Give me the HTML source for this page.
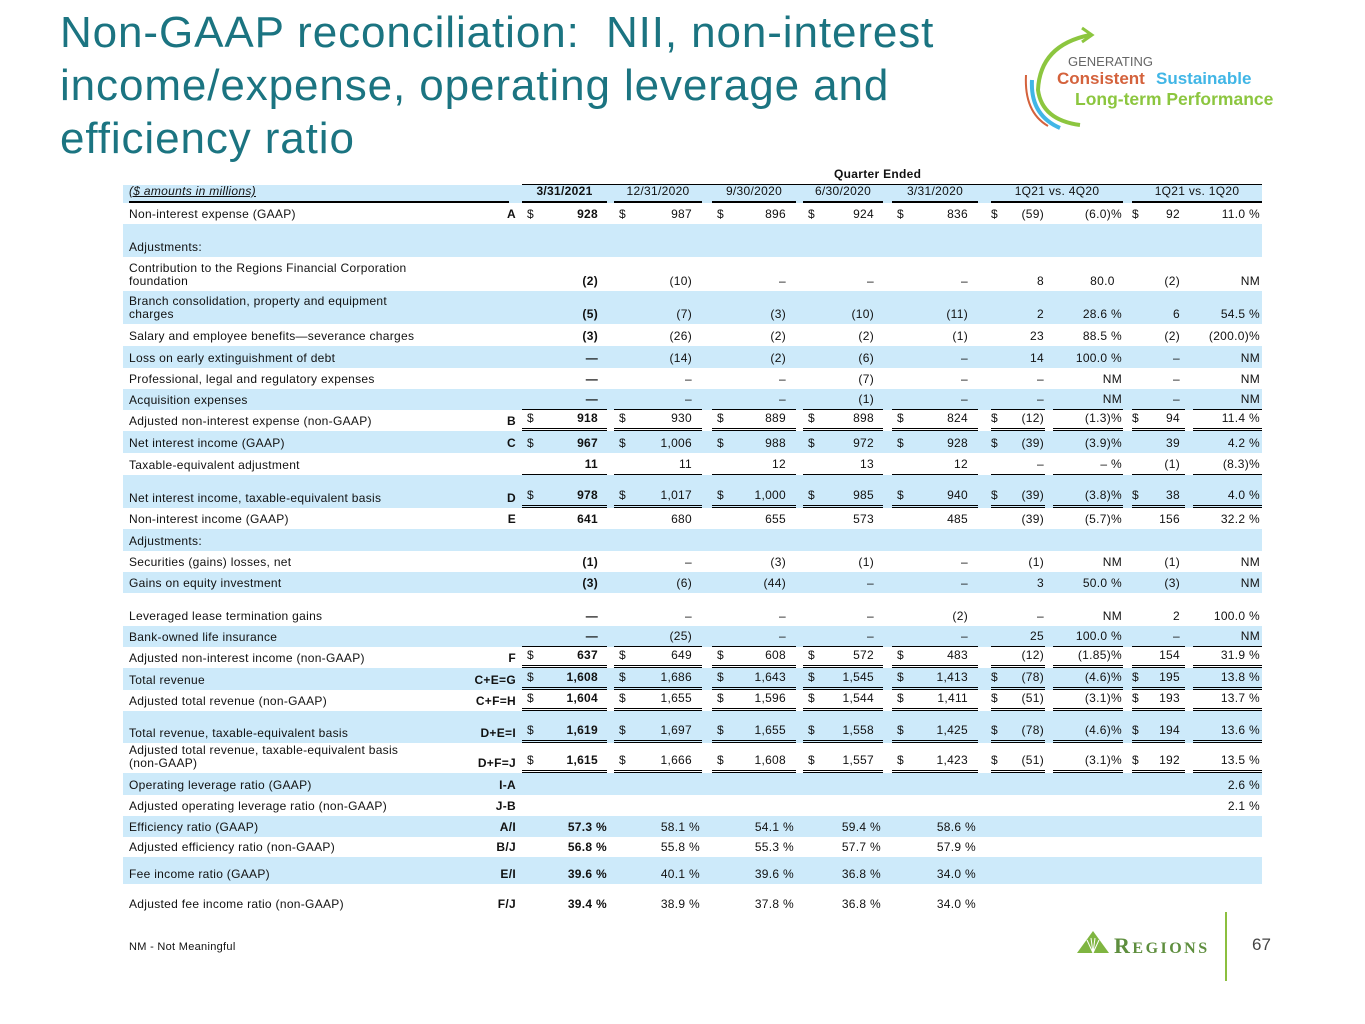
<!DOCTYPE html>
<html><head><meta charset="utf-8">
<style>
*{margin:0;padding:0;box-sizing:border-box}
body{width:1365px;height:1024px;background:#fff;position:relative;overflow:hidden;font-family:"Liberation Sans",sans-serif;color:#111}
.title{position:absolute;left:60px;top:6px;font-size:44px;line-height:53px;color:#1b7481;width:960px;letter-spacing:0.9px}
.r{position:absolute;left:123px;width:1139px;font-size:12px;line-height:13px;letter-spacing:0.3px}
.sh{background:#cdeafa}
.r>span{position:absolute;top:0;bottom:0;display:flex;align-items:flex-end;justify-content:flex-end;padding-bottom:3px;white-space:nowrap}
.r>span.l{left:6px;width:380px;justify-content:flex-start}
.r>span.k{left:317px;width:76px;font-weight:bold}
.a{left:399px;width:85px;padding-right:9px}
.b{left:491px;width:88px;padding-right:10px}
.c{left:589px;width:84px;padding-right:10px}
.d{left:680px;width:80px;padding-right:9px}
.e{left:769px;width:86px;padding-right:10px}
.f{left:868px;width:54px;padding-right:1px}
.g{left:930px;width:70px;padding-right:1px}
.h{left:1009px;width:53px;padding-right:5px}
.i{left:1070px;width:69px;padding-right:2px}
.a{font-weight:bold}
.r i{font-style:normal;position:absolute;left:5px;bottom:3px;font-weight:normal}
.f i,.h i{left:0}
.t{border-top:1px solid #000}
.s{border-bottom:1px solid #000}
.dd{border-bottom:3px double #000}
.hd>span{border-bottom:2px solid #000;justify-content:center;padding-right:0}
.hd>span.a{font-weight:bold}
.ht{position:absolute;left:522px;top:184px;width:740px;border-top:2px solid #000}
.qe{position:absolute;left:834px;top:167px;font-size:12px;font-weight:bold;letter-spacing:0.3px}
.foot{position:absolute;left:129px;top:941px;font-size:11px;letter-spacing:0.3px}
</style></head><body>
<div class="title">Non-GAAP reconciliation:&nbsp; NII, non-interest income/expense, operating leverage and efficiency ratio</div>

<svg style="position:absolute;left:1020px;top:20px" width="300" height="110">
<path d="M70 15 Q20 25 18 70 Q22 100 60 105" fill="none" stroke="#8cc63f" stroke-width="4"/>
<path d="M62 8 L72 15 L62 22" fill="none" stroke="#8cc63f" stroke-width="3"/>
<path d="M12 60 Q10 95 40 108" fill="none" stroke="#41b6e6" stroke-width="4"/>
<path d="M6 55 Q4 92 28 106" fill="none" stroke="#d4623c" stroke-width="2"/>
<text x="48" y="46" font-family="Liberation Sans" font-size="13" fill="#666">GENERATING</text>
<text x="37" y="64" font-family="Liberation Sans" font-size="17" font-weight="bold" fill="#d4623c">Consistent</text>
<text x="136" y="64" font-family="Liberation Sans" font-size="17" font-weight="bold" fill="#41b6e6">Sustainable</text>
<text x="55" y="85" font-family="Liberation Sans" font-size="17.5" font-weight="bold" fill="#8cc63f">Long-term Performance</text>
</svg>

<div class="qe">Quarter Ended</div>
<div class="ht"></div>

<div class="r sh hd" style="top:185px;height:18px"><span class="l" style="font-style:italic;text-decoration:underline">($ amounts in millions)</span><span class="a">3/31/2021</span><span class="b">12/31/2020</span><span class="c">9/30/2020</span><span class="d">6/30/2020</span><span class="e">3/31/2020</span><span style="left:868px;width:132px;border-bottom:2px solid #000;justify-content:center;padding-right:0">1Q21 vs. 4Q20</span><span style="left:1009px;width:130px;border-bottom:2px solid #000;justify-content:center;padding-right:0">1Q21 vs. 1Q20</span></div>

<div class="r" style="top:203px;height:21px"><span class="l">Non-interest expense (GAAP)</span><span class="k">A</span><span class="a"><i>$</i>928</span><span class="b"><i>$</i>987</span><span class="c"><i>$</i>896</span><span class="d"><i>$</i>924</span><span class="e"><i>$</i>836</span><span class="f"><i>$</i>(59)</span><span class="g">(6.0)%</span><span class="h"><i>$</i>92</span><span class="i">11.0 %</span></div>

<div class="r sh" style="top:224px;height:33px"><span class="l">Adjustments:</span></div>

<div class="r" style="top:257px;height:34px"><span class="l">Contribution to the Regions Financial Corporation<br>foundation</span><span class="a">(2)</span><span class="b">(10)</span><span class="c">–</span><span class="d">–</span><span class="e">–</span><span class="f">8</span><span class="g">80.0&nbsp;&nbsp;</span><span class="h">(2)</span><span class="i">NM</span></div>

<div class="r sh" style="top:291px;height:33px"><span class="l">Branch consolidation, property and equipment<br>charges</span><span class="a">(5)</span><span class="b">(7)</span><span class="c">(3)</span><span class="d">(10)</span><span class="e">(11)</span><span class="f">2</span><span class="g">28.6 %</span><span class="h">6</span><span class="i">54.5 %</span></div>

<div class="r" style="top:324px;height:22px"><span class="l">Salary and employee benefits—severance charges</span><span class="a">(3)</span><span class="b">(26)</span><span class="c">(2)</span><span class="d">(2)</span><span class="e">(1)</span><span class="f">23</span><span class="g">88.5 %</span><span class="h">(2)</span><span class="i">(200.0)%</span></div>

<div class="r sh" style="top:346px;height:22px"><span class="l">Loss on early extinguishment of debt</span><span class="a">—</span><span class="b">(14)</span><span class="c">(2)</span><span class="d">(6)</span><span class="e">–</span><span class="f">14</span><span class="g">100.0 %</span><span class="h">–</span><span class="i">NM</span></div>

<div class="r" style="top:368px;height:21px"><span class="l">Professional, legal and regulatory expenses</span><span class="a">—</span><span class="b">–</span><span class="c">–</span><span class="d">(7)</span><span class="e">–</span><span class="f">–</span><span class="g">NM</span><span class="h">–</span><span class="i">NM</span></div>

<div class="r sh" style="top:389px;height:21px"><span class="l">Acquisition expenses</span><span class="a s">—</span><span class="b s">–</span><span class="c s">–</span><span class="d s">(1)</span><span class="e s">–</span><span class="f s">–</span><span class="g s">NM</span><span class="h s">–</span><span class="i s">NM</span></div>

<div class="r" style="top:410px;height:21px"><span class="l">Adjusted non-interest expense (non-GAAP)</span><span class="k">B</span><span class="a dd"><i>$</i>918</span><span class="b dd"><i>$</i>930</span><span class="c dd"><i>$</i>889</span><span class="d dd"><i>$</i>898</span><span class="e dd"><i>$</i>824</span><span class="f dd"><i>$</i>(12)</span><span class="g dd">(1.3)%</span><span class="h dd"><i>$</i>94</span><span class="i dd">11.4 %</span></div>

<div class="r sh" style="top:431px;height:22px"><span class="l">Net interest income (GAAP)</span><span class="k">C</span><span class="a"><i>$</i>967</span><span class="b"><i>$</i>1,006</span><span class="c"><i>$</i>988</span><span class="d"><i>$</i>972</span><span class="e"><i>$</i>928</span><span class="f"><i>$</i>(39)</span><span class="g">(3.9)%</span><span class="h">39</span><span class="i">4.2 %</span></div>

<div class="r" style="top:453px;height:22px"><span class="l">Taxable-equivalent adjustment</span><span class="a s">11</span><span class="b s">11</span><span class="c s">12</span><span class="d s">13</span><span class="e s">12</span><span class="f s">–</span><span class="g s">– %</span><span class="h s">(1)</span><span class="i s">(8.3)%</span></div>

<div class="r sh" style="top:475px;height:33px"><span class="l">Net interest income, taxable-equivalent basis</span><span class="k">D</span><span class="a dd"><i>$</i>978</span><span class="b dd"><i>$</i>1,017</span><span class="c dd"><i>$</i>1,000</span><span class="d dd"><i>$</i>985</span><span class="e dd"><i>$</i>940</span><span class="f dd"><i>$</i>(39)</span><span class="g dd">(3.8)%</span><span class="h dd"><i>$</i>38</span><span class="i dd">4.0 %</span></div>

<div class="r" style="top:508px;height:21px"><span class="l">Non-interest income (GAAP)</span><span class="k">E</span><span class="a">641</span><span class="b">680</span><span class="c">655</span><span class="d">573</span><span class="e">485</span><span class="f">(39)</span><span class="g">(5.7)%</span><span class="h">156</span><span class="i">32.2 %</span></div>

<div class="r sh" style="top:529px;height:22px"><span class="l">Adjustments:</span></div>

<div class="r" style="top:551px;height:21px"><span class="l">Securities (gains) losses, net</span><span class="a">(1)</span><span class="b">–</span><span class="c">(3)</span><span class="d">(1)</span><span class="e">–</span><span class="f">(1)</span><span class="g">NM</span><span class="h">(1)</span><span class="i">NM</span></div>

<div class="r sh" style="top:572px;height:21px"><span class="l">Gains on equity investment</span><span class="a">(3)</span><span class="b">(6)</span><span class="c">(44)</span><span class="d">–</span><span class="e">–</span><span class="f">3</span><span class="g">50.0 %</span><span class="h">(3)</span><span class="i">NM</span></div>

<div class="r" style="top:593px;height:33px"><span class="l">Leveraged lease termination gains</span><span class="a">—</span><span class="b">–</span><span class="c">–</span><span class="d">–</span><span class="e">(2)</span><span class="f">–</span><span class="g">NM</span><span class="h">2</span><span class="i">100.0 %</span></div>

<div class="r sh" style="top:626px;height:21px"><span class="l">Bank-owned life insurance</span><span class="a s">—</span><span class="b s">(25)</span><span class="c s">–</span><span class="d s">–</span><span class="e s">–</span><span class="f s">25</span><span class="g s">100.0 %</span><span class="h s">–</span><span class="i s">NM</span></div>

<div class="r" style="top:647px;height:21px"><span class="l">Adjusted non-interest income (non-GAAP)</span><span class="k">F</span><span class="a dd"><i>$</i>637</span><span class="b dd"><i>$</i>649</span><span class="c dd"><i>$</i>608</span><span class="d dd"><i>$</i>572</span><span class="e dd"><i>$</i>483</span><span class="f dd">(12)</span><span class="g dd">(1.85)%</span><span class="h dd">154</span><span class="i dd">31.9 %</span></div>

<div class="r sh" style="top:668px;height:22px"><span class="l">Total revenue</span><span class="k">C+E=G</span><span class="a dd"><i>$</i>1,608</span><span class="b dd"><i>$</i>1,686</span><span class="c dd"><i>$</i>1,643</span><span class="d dd"><i>$</i>1,545</span><span class="e dd"><i>$</i>1,413</span><span class="f dd"><i>$</i>(78)</span><span class="g dd">(4.6)%</span><span class="h dd"><i>$</i>195</span><span class="i dd">13.8 %</span></div>

<div class="r" style="top:690px;height:21px"><span class="l">Adjusted total revenue (non-GAAP)</span><span class="k">C+F=H</span><span class="a dd"><i>$</i>1,604</span><span class="b dd"><i>$</i>1,655</span><span class="c dd"><i>$</i>1,596</span><span class="d dd"><i>$</i>1,544</span><span class="e dd"><i>$</i>1,411</span><span class="f dd"><i>$</i>(51)</span><span class="g dd">(3.1)%</span><span class="h dd"><i>$</i>193</span><span class="i dd">13.7 %</span></div>

<div class="r sh" style="top:711px;height:32px"><span class="l">Total revenue, taxable-equivalent basis</span><span class="k">D+E=I</span><span class="a dd"><i>$</i>1,619</span><span class="b dd"><i>$</i>1,697</span><span class="c dd"><i>$</i>1,655</span><span class="d dd"><i>$</i>1,558</span><span class="e dd"><i>$</i>1,425</span><span class="f dd"><i>$</i>(78)</span><span class="g dd">(4.6)%</span><span class="h dd"><i>$</i>194</span><span class="i dd">13.6 %</span></div>

<div class="r" style="top:743px;height:30px"><span class="l">Adjusted total revenue, taxable-equivalent basis<br>(non-GAAP)</span><span class="k">D+F=J</span><span class="a dd"><i>$</i>1,615</span><span class="b dd"><i>$</i>1,666</span><span class="c dd"><i>$</i>1,608</span><span class="d dd"><i>$</i>1,557</span><span class="e dd"><i>$</i>1,423</span><span class="f dd"><i>$</i>(51)</span><span class="g dd">(3.1)%</span><span class="h dd"><i>$</i>192</span><span class="i dd">13.5 %</span></div>

<div class="r sh" style="top:773px;height:22px"><span class="l">Operating leverage ratio (GAAP)</span><span class="k">I-A</span><span class="i">2.6 %</span></div>

<div class="r" style="top:795px;height:21px"><span class="l">Adjusted operating leverage ratio (non-GAAP)</span><span class="k">J-B</span><span class="i">2.1 %</span></div>

<div class="r sh" style="top:816px;height:21px"><span class="l">Efficiency ratio (GAAP)</span><span class="k">A/I</span><span class="a" style="padding-right:0">57.3 %</span><span class="b" style="padding-right:2px">58.1 %</span><span class="c" style="padding-right:2px">54.1 %</span><span class="d" style="padding-right:2px">59.4 %</span><span class="e" style="padding-right:2px">58.6 %</span></div>

<div class="r" style="top:837px;height:20px"><span class="l">Adjusted efficiency ratio (non-GAAP)</span><span class="k">B/J</span><span class="a" style="padding-right:0">56.8 %</span><span class="b" style="padding-right:2px">55.8 %</span><span class="c" style="padding-right:2px">55.3 %</span><span class="d" style="padding-right:2px">57.7 %</span><span class="e" style="padding-right:2px">57.9 %</span></div>

<div class="r sh" style="top:857px;height:27px"><span class="l">Fee income ratio (GAAP)</span><span class="k">E/I</span><span class="a" style="padding-right:0">39.6 %</span><span class="b" style="padding-right:2px">40.1 %</span><span class="c" style="padding-right:2px">39.6 %</span><span class="d" style="padding-right:2px">36.8 %</span><span class="e" style="padding-right:2px">34.0 %</span></div>

<div class="r" style="top:884px;height:30px"><span class="l">Adjusted fee income ratio (non-GAAP)</span><span class="k">F/J</span><span class="a" style="padding-right:0">39.4 %</span><span class="b" style="padding-right:2px">38.9 %</span><span class="c" style="padding-right:2px">37.8 %</span><span class="d" style="padding-right:2px">36.8 %</span><span class="e" style="padding-right:2px">34.0 %</span></div>

<div class="foot">NM - Not Meaningful</div>

<svg style="position:absolute;left:1075px;top:928px" width="40" height="28">
<polygon points="2,25 18,3 34,25" fill="#7fb541"/>
<path d="M18 25 L12 12 M18 25 L16 10 M18 25 L20 10 M18 25 L24 12" stroke="#fff" stroke-width="1"/>
</svg>
<div style="position:absolute;left:1114px;top:933px;font-family:'Liberation Serif',serif;font-size:22px;font-weight:bold;color:#5e8e3e;letter-spacing:2.5px">R<span style="font-size:16px">EGIONS</span></div>
<div style="position:absolute;left:1225px;top:912px;width:2px;height:69px;background:#8cbf3f"></div>
<div style="position:absolute;left:1252px;top:935px;font-size:17px;color:#444">67</div>
</body></html>
